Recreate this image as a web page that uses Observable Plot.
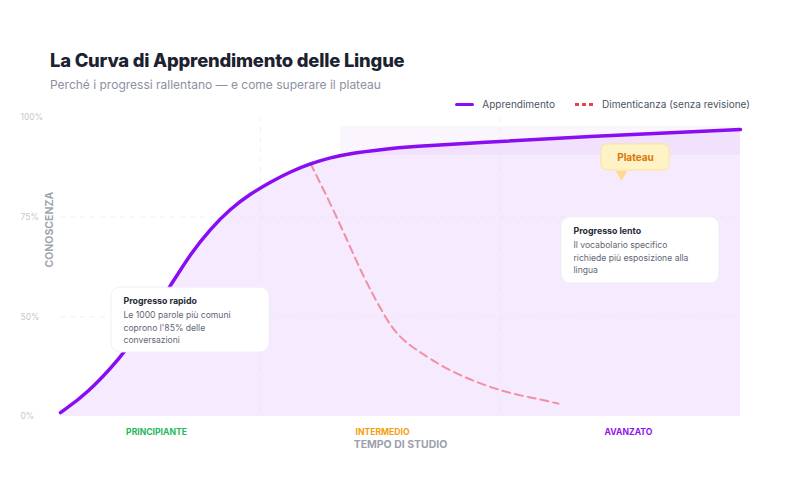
<!DOCTYPE html>
<html>
<head>
<meta charset="utf-8">
<script src="https://cdn.jsdelivr.net/npm/d3@7"></script>
<script src="https://cdn.jsdelivr.net/npm/@observablehq/plot@0.6"></script>
<style>
  body { margin:0; background:#fff; font-family: Inter, "Noto Sans", sans-serif; }
  #wrap { position:relative; width:800px; height:500px; overflow:hidden; }
  #title { position:absolute; left:50px; top:48px; font-size:18.4px; line-height:24px; font-weight:800; color:#1c2230; letter-spacing:-0.2px; }
  #subtitle { position:absolute; left:50px; top:76px; font-size:12px; line-height:18px; color:#8c91a1; }
  #legend { position:absolute; right:50px; top:96px; font-size:10px; line-height:16px; color:#4b5563; display:flex; align-items:center; }
  .sw { display:inline-block; width:19px; height:3px; margin-right:8px; }
  .item { display:flex; align-items:center; }
  #chart { position:absolute; left:0; top:110px; }
</style>
</head>
<body>
<div id="wrap">
  <div id="title">La Curva di Apprendimento delle Lingue</div>
  <div id="subtitle">Perché i progressi rallentano — e come superare il plateau</div>
  <div id="legend">
    <div class="item"><span class="sw" style="background:#8a0cf2;border-radius:2px"></span>Apprendimento</div>
    <div class="item" style="margin-left:20px"><span class="sw" style="background:repeating-linear-gradient(90deg,#e04848 0 4px,transparent 4px 7px)"></span>Dimenticanza (senza revisione)</div>
  </div>
  <div id="chart"></div>
</div>
<script>
// ---- data ----
const learnX = [0, 0.67, 1.5, 2.0, 2.79, 3.25, 3.75, 4.25, 4.75, 5.25, 5.75, 6.25, 6.75, 7.25, 8.0, 8.8, 10.5, 13, 17];
const learnY = [1.3, 7.7, 19.7, 28.8, 44.5, 54.4, 62.8, 69.5, 74.5, 78.4, 81.9, 84.6, 86.6, 88.0, 89.3, 90.3, 91.6, 93.6, 96.0];
const forgetX = [6.25, 6.75, 7.17, 7.58, 8.0, 8.25, 8.5, 8.75, 9.0, 9.5, 10.0, 10.5, 11.0, 11.5, 12.0, 12.45];
const forgetY = [84.6, 71.2, 58.9, 46.5, 36.1, 30.4, 26.4, 23.7, 21.4, 17.1, 13.7, 11.0, 8.7, 7.0, 5.7, 4.3];
const stageNames = ["PRINCIPIANTE", "INTERMEDIO", "AVANZATO"];
const stageX = [2.4, 8.05, 14.2];
const stageColors = ["#22b85a", "#f59e0b", "#9114ec"];
const stageBounds = [5, 11];
const yTickPos = [0, 33.3, 66.7, 100];
const yTickLabels = ["0%", "50%", "75%", "100%"];
const plateauX = [7, 17];
const plateauY = [87.3, 97];
const annTitles = ["Progresso rapido", "Progresso lento"];
const annBodies = ["Le 1000 parole più comuni\ncoprono l'85% delle\nconversazioni",
                   "Il vocabolario specifico\nrichiede più esposizione alla\nlingua"];
const annX1 = [1.275, 12.525], annX2 = [5.225, 16.475];
const annY1 = [21.4, 44.5], annY2 = [43.1, 66.6];
const annTitleY = [38.5, 61.9], annBodyY = [30.1, 53.5];
const plateauLabel = "Plateau";
const plateauBox = {x1: 13.525, x2: 15.225, y1: 82.3, y2: 91.0, tx: 14.375, ty: 86.6, px: 14.025, py: 81.0};

// ---- tables ----
const learn = learnX.map((x, i) => ({x, y: learnY[i]}));
const forget = forgetX.map((x, i) => ({x, y: forgetY[i]}));
const stages = stageNames.map((name, i) => ({name, x: stageX[i], color: stageColors[i]}));
const yTicks = yTickPos.map((y, i) => ({y, label: yTickLabels[i]}));
const anns = annTitles.map((t, i) => ({title: t, body: annBodies[i], x1: annX1[i], x2: annX2[i], y1: annY1[i], y2: annY2[i], tx: annX1[i] + 0.3, ty: annTitleY[i], by: annBodyY[i]}));

const chart = Plot.plot({
  width: 800, height: 350,
  marginLeft: 60, marginRight: 60, marginTop: 7, marginBottom: 44,
  x: {domain: [0, 17], axis: null},
  y: {domain: [0, 100], axis: null},
  style: {fontFamily: "Inter, 'Noto Sans', sans-serif", background: "transparent", overflow: "visible"},
  marks: [
    Plot.areaY(learn, {x: "x", y: "y", fill: "#a020f0", fillOpacity: 0.09, curve: "basis"}),
    Plot.rect([0], {x1: plateauX[0], x2: plateauX[1], y1: plateauY[0], y2: plateauY[1], fill: "#a020f0", fillOpacity: 0.045}),
    Plot.ruleX(stageBounds, {stroke: "#e4e2ea", strokeDasharray: "5,5", strokeOpacity: 0.6}),
    Plot.ruleY(yTickPos.slice(1, 3), {stroke: "#e4e2ea", strokeDasharray: "5,5", strokeOpacity: 0.5}),
    Plot.line(forget, {x: "x", y: "y", stroke: "#ee4455", strokeOpacity: 0.55, strokeWidth: 2, strokeDasharray: "8,5", curve: "basis"}),
    Plot.line(learn, {x: "x", y: "y", stroke: "#8a0cf2", strokeWidth: 3.5, curve: "basis"}),
    // annotation boxes
    Plot.rect(anns, {x1: "x1", x2: "x2", y1: "y1", y2: "y2", fill: "white", stroke: "#eceef2", strokeWidth: 0.8, rx: 9, ariaLabel: "annbox"}),
    Plot.text(anns, {x: "tx", y: "ty", text: "title", textAnchor: "start", fontSize: 8.8, fontWeight: 700, fill: "#1f2937"}),
    Plot.text(anns, {x: "tx", y: "by", text: "body", textAnchor: "start", fontSize: 8.6, lineHeight: 1.47, fill: "#5f6675"}),
    // plateau badge
    Plot.dot([0], {x: plateauBox.px, y: plateauBox.py, symbol: "triangle", rotate: 180, r: 4.2, fill: "#fcdc8c"}),
    Plot.rect([0], {x1: plateauBox.x1, x2: plateauBox.x2, y1: plateauBox.y1, y2: plateauBox.y2, fill: "#fef3c7", stroke: "#fde58f", strokeWidth: 1, rx: 6}),
    Plot.text([plateauLabel], {x: plateauBox.tx, y: plateauBox.ty, text: d => d, fontSize: 10, fontWeight: 700, fill: "#d97706"}),
    // y tick labels
    Plot.text(yTicks, {y: "y", text: "label", frameAnchor: "left", dx: -40, textAnchor: "start", fontSize: 8.5, fill: "#c5c8d0"}),
    // y axis title
    Plot.text(["CONOSCENZA"], {y: 62.5, text: d => d, frameAnchor: "left", dx: -11, rotate: -90, textAnchor: "middle", fontSize: 10.5, fontWeight: 700, fill: "#a1a5b2", ariaLabel: "ytitle"}),
    // stage labels
    Plot.text(stages, {x: "x", text: "name", fill: "color", frameAnchor: "bottom", dy: 18.5, fontSize: 8.6, fontWeight: 700, ariaLabel: "stages"}),
    // x axis title
    Plot.text(["TEMPO DI STUDIO"], {text: d => d, frameAnchor: "bottom", dy: 31, fontSize: 10.5, fontWeight: 700, fill: "#9ca1ad", ariaLabel: "xtitle"})
  ]
});
document.getElementById("chart").appendChild(chart);
const svg = d3.select(chart);
svg.selectAll('g[aria-label="annbox"] rect').style("filter", "drop-shadow(0px 2px 5px rgba(40,20,80,0.10))");
svg.selectAll('g[aria-label="ytitle"] text').style("letter-spacing", "1.6px");
svg.selectAll('g[aria-label="xtitle"] text').style("letter-spacing", "0.9px");
svg.selectAll('g[aria-label="stages"] text').style("letter-spacing", "0.2px");
</script>
</body>
</html>
